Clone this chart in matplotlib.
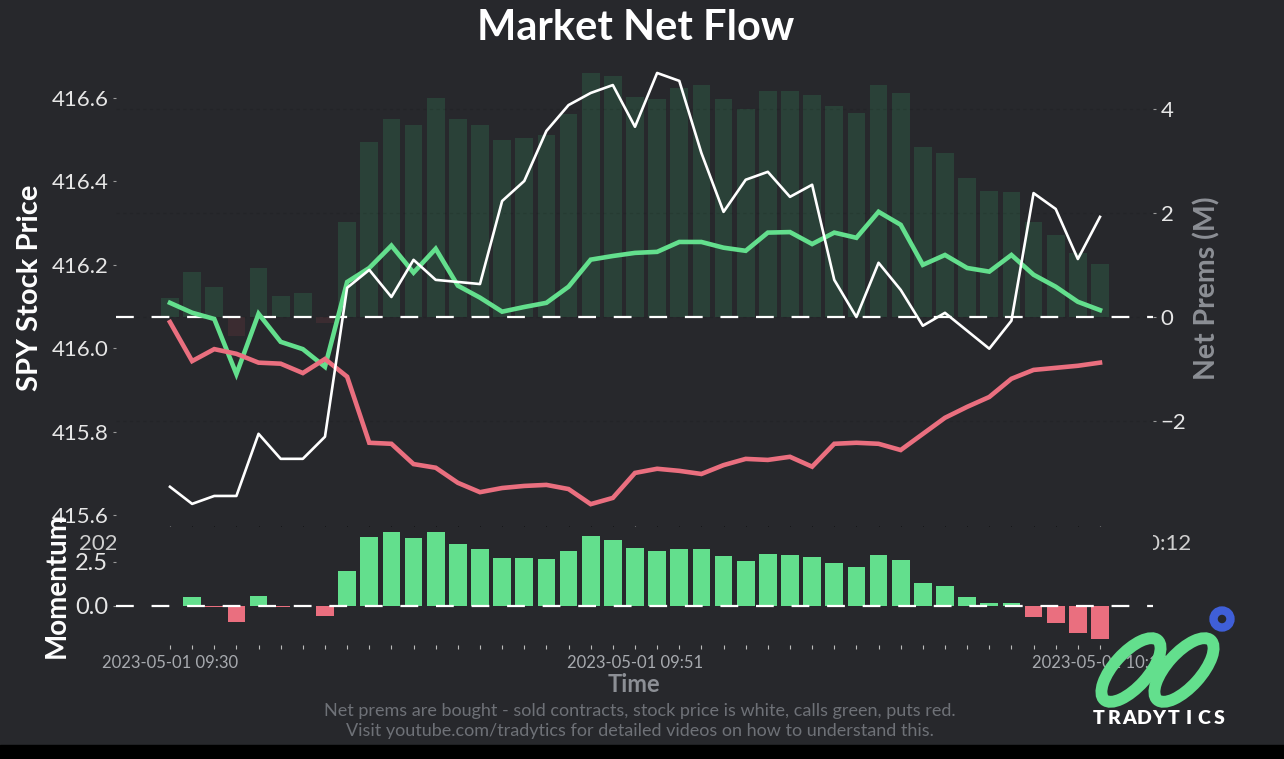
import matplotlib
matplotlib.use('Agg')
import matplotlib.pyplot as plt
from matplotlib.patches import Ellipse, Circle, Rectangle
import numpy as np
import pandas as pd

plt.rcParams['font.family'] = ['Lato', 'DejaVu Sans']

#------------------------------------------------------------------------
# Data, one point per minute
#------------------------------------------------------------------------
times = pd.date_range('2023-05-01 09:30', '2023-05-01 10:12', freq='min')

price = [415.668, 415.627, 415.646, 415.646, 415.795, 415.735, 415.735,
         415.788, 416.145, 416.188, 416.123, 416.212, 416.164, 416.159,
         416.154, 416.353, 416.401, 416.521, 416.583, 416.612, 416.631,
         416.531, 416.660, 416.641, 416.468, 416.327, 416.404, 416.423,
         416.363, 416.392, 416.164, 416.075, 416.205, 416.140, 416.054,
         416.085, 416.042, 415.999, 416.066, 416.372, 416.334, 416.214,
         416.315]

calls = [0.27, 0.08, -0.04, -1.10, 0.06, -0.48, -0.62, -0.96, 0.67, 0.94,
         1.37, 0.85, 1.31, 0.60, 0.37, 0.10, 0.19, 0.27, 0.58, 1.10, 1.17,
         1.23, 1.25, 1.44, 1.44, 1.33, 1.27, 1.62, 1.63, 1.40, 1.62, 1.52,
         2.02, 1.77, 1.00, 1.19, 0.94, 0.87, 1.19, 0.81, 0.58, 0.29, 0.13]

puts = [-0.10, -0.85, -0.62, -0.71, -0.88, -0.90, -1.08, -0.81, -1.15,
        -2.42, -2.44, -2.83, -2.90, -3.19, -3.37, -3.29, -3.25, -3.23,
        -3.31, -3.60, -3.48, -3.00, -2.92, -2.96, -3.02, -2.85, -2.73,
        -2.75, -2.69, -2.88, -2.44, -2.42, -2.44, -2.56, -2.25, -1.94,
        -1.73, -1.54, -1.19, -1.02, -0.98, -0.94, -0.88]

net_prems = [0.37, 0.87, 0.58, -0.37, 0.94, 0.40, 0.46, -0.12, 1.83, 3.37,
             3.81, 3.69, 4.21, 3.81, 3.69, 3.40, 3.44, 3.50, 3.90, 4.69,
             4.63, 4.23, 4.19, 4.40, 4.46, 4.19, 4.00, 4.35, 4.35, 4.27,
             4.06, 3.92, 4.46, 4.31, 3.27, 3.15, 2.67, 2.42, 2.40, 1.83,
             1.58, 1.23, 1.02]

momentum = [0.0, 0.51, -0.05, -0.91, 0.57, -0.05, 0.0, -0.57, 1.99, 3.92,
            4.20, 3.86, 4.20, 3.52, 3.24, 2.73, 2.73, 2.67, 3.13, 3.98,
            3.75, 3.30, 3.13, 3.24, 3.24, 2.84, 2.56, 2.95, 2.90, 2.78,
            2.44, 2.22, 2.90, 2.61, 1.31, 1.14, 0.51, 0.17, 0.17, -0.61,
            -0.95, -1.53, -1.89]

label_idx = [0, 21, 42]

#------------------------------------------------------------------------
# Colours
#------------------------------------------------------------------------
BG       = '#27282c'
GREEN    = '#63df8d'
RED      = '#ea6f7f'
BAR_POS  = '#2a4138'
BAR_NEG  = '#3b2c31'
GRAY_LBL = '#8c8f95'
TICK_CLR = '#e6e6e6'

x = np.arange(len(times))
time_labels = [times[i].strftime('%Y-%m-%d %H:%M') for i in label_idx]

fig = plt.figure(figsize=(12.84, 7.59), dpi=100, facecolor=BG)

#----------------------------
# Top panel: price and prems
#----------------------------
ax1 = fig.add_axes([0.0903, 0.3070, 0.8076, 0.6271])
ax2 = ax1.twinx()
ax1.set_zorder(ax2.get_zorder() + 1)
ax1.patch.set_visible(False)
ax2.set_facecolor(BG)
ax2.patch.set_visible(True)

net_colors = [BAR_POS if v >= 0 else BAR_NEG for v in net_prems]
ax2.bar(x, net_prems, width=0.8, color=net_colors, zorder=1)
ax2.axhline(0, color='white', lw=1.6, ls=(0, (8, 8)), zorder=2)
ax2.plot(x, calls, color=GREEN, lw=3.3, zorder=3, solid_joinstyle='miter')
ax2.plot(x, puts, color=RED, lw=3.3, zorder=3, solid_joinstyle='miter')
ax2.set_ylim(-4.02, 5.13)
ax2.set_yticks([-2, 0, 2, 4])
ax2.yaxis.grid(True, color='black', alpha=0.09, ls=(0, (3, 3)), lw=0.8)
ax2.set_ylabel('Net Prems (M)', color=GRAY_LBL, fontsize=20.5,
               fontweight='bold', labelpad=5)

ax1.plot(x, price, color='white', lw=1.9, zorder=4)
ax1.set_ylim(415.574, 416.715)
ax1.set_yticks([415.6, 415.8, 416.0, 416.2, 416.4, 416.6])
ax1.set_ylabel('SPY Stock Price', color='white', fontsize=21,
               fontweight='bold', labelpad=6)
ax1.set_xlim(-2.44, 44.39)
ax1.set_xticks(label_idx)
ax1.set_xticklabels(time_labels)

for ax in (ax1, ax2):
    for s in ax.spines.values():
        s.set_visible(False)
    ax.tick_params(axis='both', colors='#9a9a9a', length=2.5, width=0.8,
                   labelsize=16, labelcolor=TICK_CLR, pad=3)
ax1.tick_params(axis='x', labelcolor='#cfcfcf')

#----------------------------
# Bottom panel: momentum
#----------------------------
ax3 = fig.add_axes([0.0903, 0.1502, 0.8076, 0.1555], sharex=ax1)
ax3.set_zorder(ax1.get_zorder() + 1)
ax3.set_facecolor(BG)
mom_colors = [GREEN if v >= 0 else RED for v in momentum]
ax3.bar(x, momentum, width=0.8, color=mom_colors, zorder=1)
ax3.axhline(0, color='white', lw=1.6, ls=(0, (8, 8)), zorder=2)
ax3.set_ylim(-2.22, 4.49)
ax3.set_yticks([0, 2.5])
ax3.set_yticklabels(['0.0', '2.5'])
ax3.set_xticks(label_idx)
ax3.set_xticklabels(time_labels)
ax3.set_xticks(x, minor=True)
for s in ax3.spines.values():
    s.set_visible(False)
ax3.tick_params(axis='y', colors='#9a9a9a', length=2.5, width=0.8,
                labelsize=17, labelcolor=TICK_CLR, pad=3)
ax3.tick_params(axis='x', which='both', colors='#bbbbbb', length=3,
                width=0.8, labelsize=12, labelcolor='#a7aaaf', pad=4)
ax3.set_ylabel('Momentum', color='white', fontsize=20, fontweight='bold',
               labelpad=4)
ax3.set_xlabel('Time', color=GRAY_LBL, fontsize=17, fontweight='bold',
               labelpad=2)

#----------------------------
# Title and footer
#----------------------------
fig.text(636 / 1284, 1 - 28 / 759, 'Market Net Flow', color='white',
         fontsize=30, fontweight='bold', ha='center', va='center')
fig.text(640 / 1284, 1 - 711 / 759,
         'Net prems are bought - sold contracts, stock price is white, '
         'calls green, puts red.', color='#6e7177', fontsize=13,
         ha='center', va='center')
fig.text(640 / 1284, 1 - 731 / 759,
         'Visit youtube.com/tradytics for detailed videos on how to '
         'understand this.', color='#6e7177', fontsize=13,
         ha='center', va='center')

#----------------------------
# Logo + bottom strip (pixel coords overlay)
#----------------------------
ov = fig.add_axes([0, 0, 1, 1], zorder=20)
ov.set_xlim(0, 1284)
ov.set_ylim(759, 0)
ov.axis('off')
ov.patch.set_visible(False)
ov.add_patch(Rectangle((0, 745), 1284, 14, color='black'))
for cx in (1131, 1184):
    ov.add_patch(Ellipse((cx, 670), 80, 34, angle=-48, fill=False,
                         ec=GREEN, lw=8.5))
ov.add_patch(Circle((1222, 619), 8.5, fill=False, ec='#3f5fd8', lw=6))
for i, ch in enumerate('TRADYTICS'):
    ov.text(1099 + i * 15.0, 718, ch, color='white', fontsize=14,
            fontweight='heavy', ha='center', va='center')

fig.savefig('out.png', dpi=100, facecolor=BG)
